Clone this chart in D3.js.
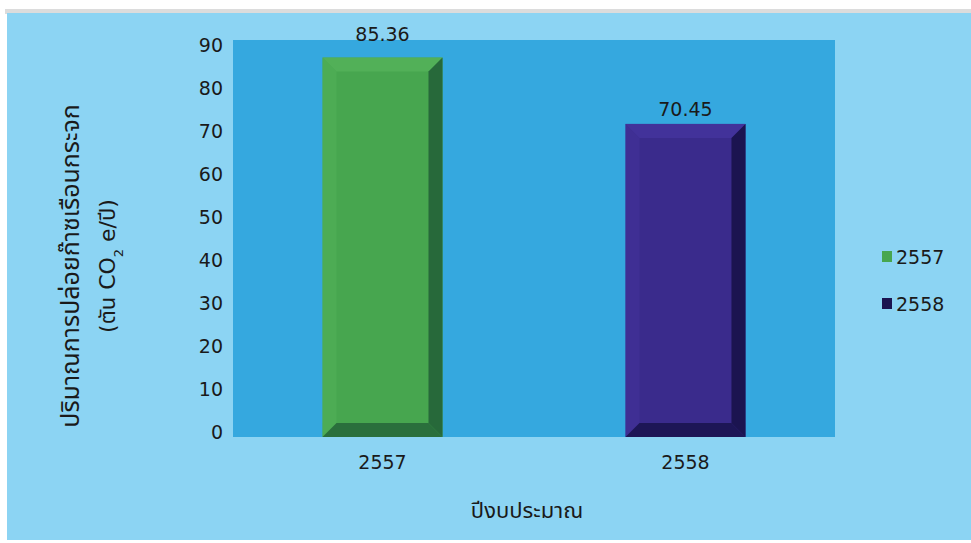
<!DOCTYPE html>
<html>
<head>
<meta charset="utf-8">
<script src="https://cdn.jsdelivr.net/npm/d3@7"></script>
<style>
html,body{margin:0;padding:0;background:#fff;}
svg{display:block;}
text{font-family:"DejaVu Sans","Noto Sans Thai","Noto Sans",sans-serif;fill:#1a1a1a;}
</style>
</head>
<body>
<svg id="chart" width="971" height="543"></svg>
<script>
const categories = ["2557", "2558"];
const values = [85.36, 70.45];
const valueLabels = ["85.36", "70.45"];
const yTicks = [0, 10, 20, 30, 40, 50, 60, 70, 80, 90];
const seriesNames = ["2557", "2558"];
const yTitle = ["ปริมาณการปล่อยก๊าซเรือนกระจก", "(ตัน CO", "2", " e/ปี)"];
const xTitle = "ปีงบประมาณ";

const faceColors = ["#47a64f", "#3a2b8c"];
const darkColors = ["#27693a", "#1b1450"];
const lightColors = ["#52b058", "#42329a"];

const svg = d3.select("#chart");

// frame
svg.append("rect").attr("x", 0).attr("y", 0).attr("width", 971).attr("height", 543).attr("fill", "#ffffff");
svg.append("rect").attr("x", 5).attr("y", 9).attr("width", 966).attr("height", 5).attr("fill", "#dcdcdc");
svg.append("rect").attr("x", 7).attr("y", 13).attr("width", 964).attr("height", 527).attr("fill", "#8cd4f3");

// plot area
const plot = {left: 233, right: 835, top: 40, bottom: 437};
svg.append("rect").attr("x", plot.left).attr("y", plot.top)
  .attr("width", plot.right - plot.left).attr("height", plot.bottom - plot.top)
  .attr("fill", "#35a8df");

// scales
const yAxisScale = d3.scaleLinear().domain([0, 90]).range([432, 45]);
const yBar = d3.scaleLinear().domain([0, 90]).range([437, 37]);
const x = d3.scaleBand().domain(categories).range([plot.left, plot.right]).paddingInner(0.604).paddingOuter(0.2955);

// y axis labels
const yAxis = d3.axisLeft(yAxisScale).tickValues(yTicks).tickSize(0).tickPadding(0).tickFormat(d3.format("d"));
const yg = svg.append("g").attr("transform", "translate(223,0)").call(yAxis);
yg.select(".domain").remove();
yg.selectAll("text").style("font-size", "19px").style("font-family", "DejaVu Sans").attr("fill", "#1a1a1a");

// x axis labels
const xAxis = d3.axisBottom(x).tickSize(0).tickPadding(0);
const xg = svg.append("g").attr("transform", "translate(0,455)").call(xAxis);
xg.select(".domain").remove();
xg.selectAll("text").style("font-size", "19px").style("font-family", "DejaVu Sans").attr("fill", "#1a1a1a");

// bars with bevel
const bev = 14;
categories.forEach((c, i) => {
  const x0 = x(c), w = x.bandwidth(), y0 = yBar(values[i]), y1 = yBar(0);
  const g = svg.append("g");
  g.append("rect").attr("x", x0).attr("y", y0).attr("width", w).attr("height", y1 - y0).attr("fill", faceColors[i]);
  // top bevel (lighter)
  g.append("path").attr("d", `M${x0},${y0} L${x0 + w},${y0} L${x0 + w - bev},${y0 + bev} L${x0 + bev},${y0 + bev} Z`).attr("fill", lightColors[i]);
  // left bevel
  g.append("path").attr("d", `M${x0},${y0} L${x0 + bev},${y0 + bev} L${x0 + bev},${y1 - bev} L${x0},${y1} Z`).attr("fill", lightColors[i]).attr("opacity", 0.6);
  // right bevel (dark)
  g.append("path").attr("d", `M${x0 + w},${y0} L${x0 + w},${y1} L${x0 + w - bev},${y1 - bev} L${x0 + w - bev},${y0 + bev} Z`).attr("fill", darkColors[i]);
  // bottom bevel (dark)
  g.append("path").attr("d", `M${x0},${y1} L${x0 + w},${y1} L${x0 + w - bev},${y1 - bev} L${x0 + bev},${y1 - bev} Z`).attr("fill", darkColors[i]).attr("opacity", 0.9);
  // value label: above the bar, pushed out of the plot area if it would not fit inside
  let ly = y0 - 8;
  if (ly - 19 < plot.top) ly = plot.top + 1;
  svg.append("text").attr("x", x0 + w / 2).attr("y", ly).attr("text-anchor", "middle")
    .style("font-size", "19px").style("font-family", "DejaVu Sans").text(valueLabels[i]);
});

// axis titles
svg.append("text").attr("x", 527).attr("y", 518).attr("text-anchor", "middle")
  .style("font-size", "22px").text(xTitle);

const yt = svg.append("g").attr("transform", "translate(0,266) rotate(-90)");
yt.append("text").attr("x", 0).attr("y", 79).attr("text-anchor", "middle")
  .style("font-size", "25px").text(yTitle[0]);
const yt2 = yt.append("text").attr("x", 0).attr("y", 115).attr("text-anchor", "middle").style("font-size", "22px");
yt2.append("tspan").text(yTitle[1]);
yt2.append("tspan").attr("dy", 8).style("font-size", "13px").text(yTitle[2]);
yt2.append("tspan").attr("dy", -8).text(yTitle[3]);

// legend
const lg = svg.append("g");
seriesNames.forEach((s, i) => {
  const ly = 257 + i * 47;
  lg.append("rect").attr("x", 882).attr("y", ly - 6).attr("width", 10).attr("height", 11).attr("fill", i === 0 ? faceColors[0] : darkColors[1]);
  lg.append("text").attr("x", 896).attr("y", ly + 7).style("font-size", "19px").style("font-family", "DejaVu Sans").text(s);
});
</script>
</body>
</html>
